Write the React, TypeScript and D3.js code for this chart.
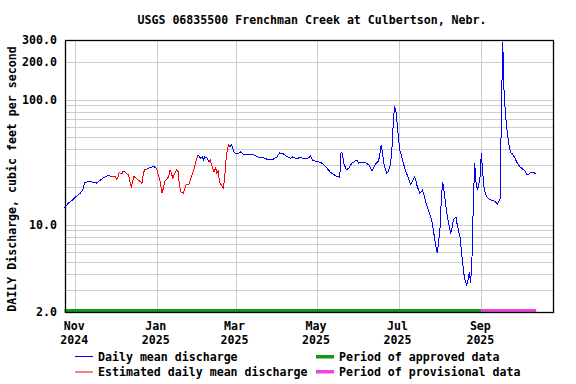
import React from 'react'
import * as d3 from 'd3'

// daily mean discharge, cfs
const dates = [
  '2024-10-24', '2024-10-27', '2024-10-30', '2024-11-02', '2024-11-05', '2024-11-07', '2024-11-08',
  '2024-11-11', '2024-11-14', '2024-11-17', '2024-11-20', '2024-11-23', '2024-11-26', '2024-11-28',
  '2024-12-01', '2024-12-02', '2024-12-03', '2024-12-04', '2024-12-06', '2024-12-07', '2024-12-09',
  '2024-12-11', '2024-12-12', '2024-12-13', '2024-12-14', '2024-12-15', '2024-12-17', '2024-12-18',
  '2024-12-20', '2024-12-21', '2024-12-22', '2024-12-23', '2024-12-25', '2024-12-27', '2024-12-30',
  '2025-01-01', '2025-01-02', '2025-01-03', '2025-01-04', '2025-01-05', '2025-01-06', '2025-01-07',
  '2025-01-09', '2025-01-10', '2025-01-11', '2025-01-12', '2025-01-13', '2025-01-14', '2025-01-16',
  '2025-01-17', '2025-01-18', '2025-01-19', '2025-01-21', '2025-01-22', '2025-01-23', '2025-01-25',
  '2025-01-26', '2025-01-27', '2025-01-29', '2025-01-30', '2025-01-31', '2025-02-01', '2025-02-03',
  '2025-02-04', '2025-02-05', '2025-02-06', '2025-02-08', '2025-02-09', '2025-02-10', '2025-02-11',
  '2025-02-13', '2025-02-14', '2025-02-15', '2025-02-16', '2025-02-17', '2025-02-18', '2025-02-20',
  '2025-02-21', '2025-02-22', '2025-02-23', '2025-02-24', '2025-02-25', '2025-02-26', '2025-02-28',
  '2025-03-02', '2025-03-05', '2025-03-07', '2025-03-11', '2025-03-15', '2025-03-18', '2025-03-22',
  '2025-03-26', '2025-03-29', '2025-04-01', '2025-04-03', '2025-04-06', '2025-04-08', '2025-04-11',
  '2025-04-13', '2025-04-16', '2025-04-18', '2025-04-22', '2025-04-25', '2025-04-26', '2025-04-28',
  '2025-05-02', '2025-05-05', '2025-05-08', '2025-05-11', '2025-05-15', '2025-05-18', '2025-05-19',
  '2025-05-20', '2025-05-21', '2025-05-23', '2025-05-25', '2025-05-27', '2025-05-30', '2025-05-31',
  '2025-06-01', '2025-06-04', '2025-06-06', '2025-06-09', '2025-06-11', '2025-06-14', '2025-06-16',
  '2025-06-17', '2025-06-18', '2025-06-19', '2025-06-20', '2025-06-22', '2025-06-23', '2025-06-25',
  '2025-06-26', '2025-06-27', '2025-06-28', '2025-06-29', '2025-06-30', '2025-07-01', '2025-07-02',
  '2025-07-04', '2025-07-05', '2025-07-06', '2025-07-07', '2025-07-09', '2025-07-10', '2025-07-12',
  '2025-07-13', '2025-07-14', '2025-07-15', '2025-07-17', '2025-07-19', '2025-07-20', '2025-07-22',
  '2025-07-24', '2025-07-26', '2025-07-27', '2025-07-29', '2025-07-30', '2025-07-31', '2025-08-01',
  '2025-08-02', '2025-08-03', '2025-08-04', '2025-08-06', '2025-08-07', '2025-08-09', '2025-08-10',
  '2025-08-11', '2025-08-13', '2025-08-14', '2025-08-16', '2025-08-17', '2025-08-18', '2025-08-19',
  '2025-08-20', '2025-08-21', '2025-08-22', '2025-08-23', '2025-08-24', '2025-08-25', '2025-08-26',
  '2025-08-27', '2025-08-28', '2025-08-29', '2025-08-30', '2025-08-31', '2025-09-01', '2025-09-02',
  '2025-09-03', '2025-09-04', '2025-09-05', '2025-09-07', '2025-09-09', '2025-09-11', '2025-09-13',
  '2025-09-14', '2025-09-15', '2025-09-16', '2025-09-17', '2025-09-18', '2025-09-19', '2025-09-20',
  '2025-09-21', '2025-09-22', '2025-09-23', '2025-09-24', '2025-09-26', '2025-09-27', '2025-09-28',
  '2025-09-30', '2025-10-02', '2025-10-03', '2025-10-04', '2025-10-05', '2025-10-06', '2025-10-07',
  '2025-10-08', '2025-10-09', '2025-10-11', '2025-10-12',
]

const flow = [
  13.6, 14.9, 15.7, 16.9, 17.9, 19.3, 21.6,
  22.1, 21.9, 21.5, 22.8, 24.0, 24.7, 24.4,
  24.2, 23.0, 24.1, 26.2, 25.4, 26.9, 25.9,
  24.9, 22.1, 19.7, 22.3, 24.2, 23.5, 22.7,
  22.1, 21.4, 25.8, 27.4, 27.9, 28.7, 29.1,
  28.2, 25.3, 23.6, 20.8, 17.8, 19.6, 22.1,
  23.5, 24.3, 27.4, 25.8, 23.5, 24.9, 27.4,
  26.5, 20.8, 18.3, 17.8, 19.3, 20.8, 20.8,
  22.3, 24.2, 28.2, 30.9, 33.9, 36.1, 33.9,
  34.9, 33.1, 34.9, 33.9, 31.9, 32.9, 30.0,
  26.5, 28.9, 25.8, 26.9, 22.1, 21.0, 19.5,
  24.9, 33.9, 40.8, 43.4, 42.0, 43.4, 37.8,
  36.7, 38.3, 36.5, 36.4, 36.1, 34.6, 34.3,
  32.9, 33.3, 34.8, 37.6, 36.7, 35.4, 33.9,
  34.9, 33.5, 34.6, 33.5, 34.3, 35.4, 32.5,
  31.9, 30.9, 28.7, 26.2, 24.6, 23.9, 38.3,
  36.7, 30.9, 27.4, 28.5, 30.9, 32.5, 32.9,
  31.1, 31.5, 31.5, 30.0, 26.9, 30.6, 32.3,
  36.1, 43.4, 37.2, 30.9, 25.8, 26.0, 30.0,
  39.5, 62.7, 88.0, 82.6, 64.7, 49.0, 39.5,
  32.9, 30.0, 27.4, 25.8, 22.7, 21.0, 23.0,
  23.9, 22.7, 20.2, 17.8, 18.9, 17.3, 14.4,
  12.5, 10.6, 9.1, 6.7, 5.9, 7.3, 9.1,
  15.7, 22.1, 18.9, 12.7, 10.9, 8.5, 9.4,
  10.9, 11.5, 9.9, 8.0, 6.3, 4.9, 4.0,
  3.5, 3.3, 3.6, 4.2, 3.4, 5.5, 15.0,
  31.0, 22.0, 18.9, 20.8, 24.0, 37.5, 26.0,
  20.0, 17.5, 16.8, 16.0, 15.6, 15.4, 14.6,
  15.2, 16.0, 78.0, 290.0, 115.0, 78.0, 60.0,
  49.0, 41.0, 37.5, 37.0, 34.3, 32.5, 31.0,
  28.9, 27.8, 27.4, 26.5, 25.3, 25.0, 25.6,
  26.2, 26.4, 25.8, 25.6,
]

// estimated-value periods (drawn red)
const estimatedPeriods = [
  ['2024-12-01', '2024-12-06'],
  ['2024-12-11', '2024-12-23'],
  ['2025-01-02', '2025-01-31'],
  ['2025-02-10', '2025-02-24'],
]
const approvedPeriod = ['2024-10-24', '2025-09-01']
const provisionalPeriod = ['2025-09-01', '2025-10-12']
const yLabelValues = [2, 10, 100, 200, 300]
const dateDomain = ['2024-10-24', '2025-10-25']

const title = 'USGS 06835500 Frenchman Creek at Culbertson, Nebr.'
const yTitle = 'DAILY Discharge, cubic feet per second'

const width = 576
const height = 384
const margin = { top: 40, right: 22, bottom: 72, left: 65 }
const font = { fontFamily: '"DejaVu Sans Mono", monospace', fontWeight: 700, fontSize: 11.6 }

const parse = d3.utcParse('%Y-%m-%d')

const App: React.FC = () => {
  const left = margin.left
  const right = width - margin.right
  const top = margin.top
  const bottom = height - margin.bottom

  const x = d3
    .scaleUtc()
    .domain(dateDomain.map((d) => parse(d)!))
    .range([left - 0.5, right - 0.5])
  const y = d3.scaleLog().domain([2, 300]).range([bottom, top])

  const pts = dates.map((d, i) => ({ date: parse(d)!, v: flow[i] }))
  const isEst = (dt: Date) =>
    estimatedPeriods.some(([a, b]) => dt >= parse(a)! && dt <= parse(b)!)

  // split into runs of one colour
  const runs: { color: string; pts: typeof pts }[] = []
  for (let i = 0; i < pts.length - 1; i++) {
    const color = isEst(pts[i].date) || isEst(pts[i + 1].date) ? '#ff0000' : '#0000ff'
    const last = runs[runs.length - 1]
    if (last && last.color === color) last.pts.push(pts[i + 1])
    else runs.push({ color, pts: [pts[i], pts[i + 1]] })
  }

  const line = d3
    .line<{ date: Date; v: number }>()
    .x((d) => x(d.date))
    .y((d) => y(d.v))

  const monthTicks = x.ticks(d3.utcMonth.every(2)!)
  const yGrid = y.ticks().filter((v) => v > 2 && v < 300)

  return (
    <svg
      width={width}
      height={height}
      style={{ position: 'absolute', left: 0, top: 0, background: '#fff' }}
    >
      <text x={312} y={24} textAnchor="middle" {...font}>
        {title}
      </text>

      {/* grid */}
      <g stroke="#cccccc" strokeWidth={1} shapeRendering="crispEdges">
        {yGrid.map((v) => (
          <line key={'h' + v} x1={left} x2={right} y1={Math.round(y(v)) + 0.5} y2={Math.round(y(v)) + 0.5} />
        ))}
        {monthTicks.map((d) => (
          <line key={'v' + +d} x1={Math.round(x(d)) + 0.5} x2={Math.round(x(d)) + 0.5} y1={top} y2={bottom} />
        ))}
      </g>

      {/* discharge line */}
      <g fill="none" strokeWidth={1} shapeRendering="crispEdges">
        {runs.map((r, i) => (
          <path key={i} d={line(r.pts) || ''} stroke={r.color} />
        ))}
      </g>

      {/* data status bars */}
      <rect
        x={x(parse(approvedPeriod[0])!)}
        y={bottom - 3}
        width={x(parse(approvedPeriod[1])!) - x(parse(approvedPeriod[0])!)}
        height={3.5}
        fill="#119911"
      />
      <rect
        x={x(parse(provisionalPeriod[0])!)}
        y={bottom - 3}
        width={x(parse(provisionalPeriod[1])!) - x(parse(provisionalPeriod[0])!)}
        height={3.5}
        fill="#ee44dd"
      />

      {/* frame */}
      <rect
        x={left + 0.5}
        y={top + 0.5}
        width={right - left - 1}
        height={bottom - top}
        fill="none"
        stroke="#000"
        strokeWidth={1.3}
      />

      {/* y labels */}
      {yLabelValues.map((v) => (
        <text key={v} x={57} y={y(v) + 4} textAnchor="end" {...font}>
          {d3.format('.1f')(v)}
        </text>
      ))}
      <text
        transform={`translate(16,179) rotate(-90)`}
        textAnchor="middle"
        {...font}
      >
        {yTitle}
      </text>

      {/* x labels */}
      {monthTicks.map((d) => (
        <g key={'l' + +d} transform={`translate(${x(d) - 1},0)`}>
          <text y={bottom + 18} textAnchor="middle" {...font}>
            {d3.utcFormat('%b')(d)}
          </text>
          <text y={bottom + 31.5} textAnchor="middle" {...font}>
            {d3.utcFormat('%Y')(d)}
          </text>
        </g>
      ))}

      {/* legend */}
      <g {...font}>
        <line x1={75} x2={93} y1={356.5} y2={356.5} stroke="#0000ff" strokeWidth={1} />
        <text x={98} y={360.5}>Daily mean discharge</text>
        <line x1={75} x2={93} y1={372} y2={372} stroke="#ff0000" strokeWidth={1} />
        <text x={98} y={376}>Estimated daily mean discharge</text>
        <rect x={316} y={355} width={18} height={3.5} fill="#119911" />
        <text x={339} y={360.5}>Period of approved data</text>
        <rect x={316} y={370} width={18} height={3.5} fill="#ee44dd" />
        <text x={339} y={376}>Period of provisional data</text>
      </g>
    </svg>
  )
}

export default App
